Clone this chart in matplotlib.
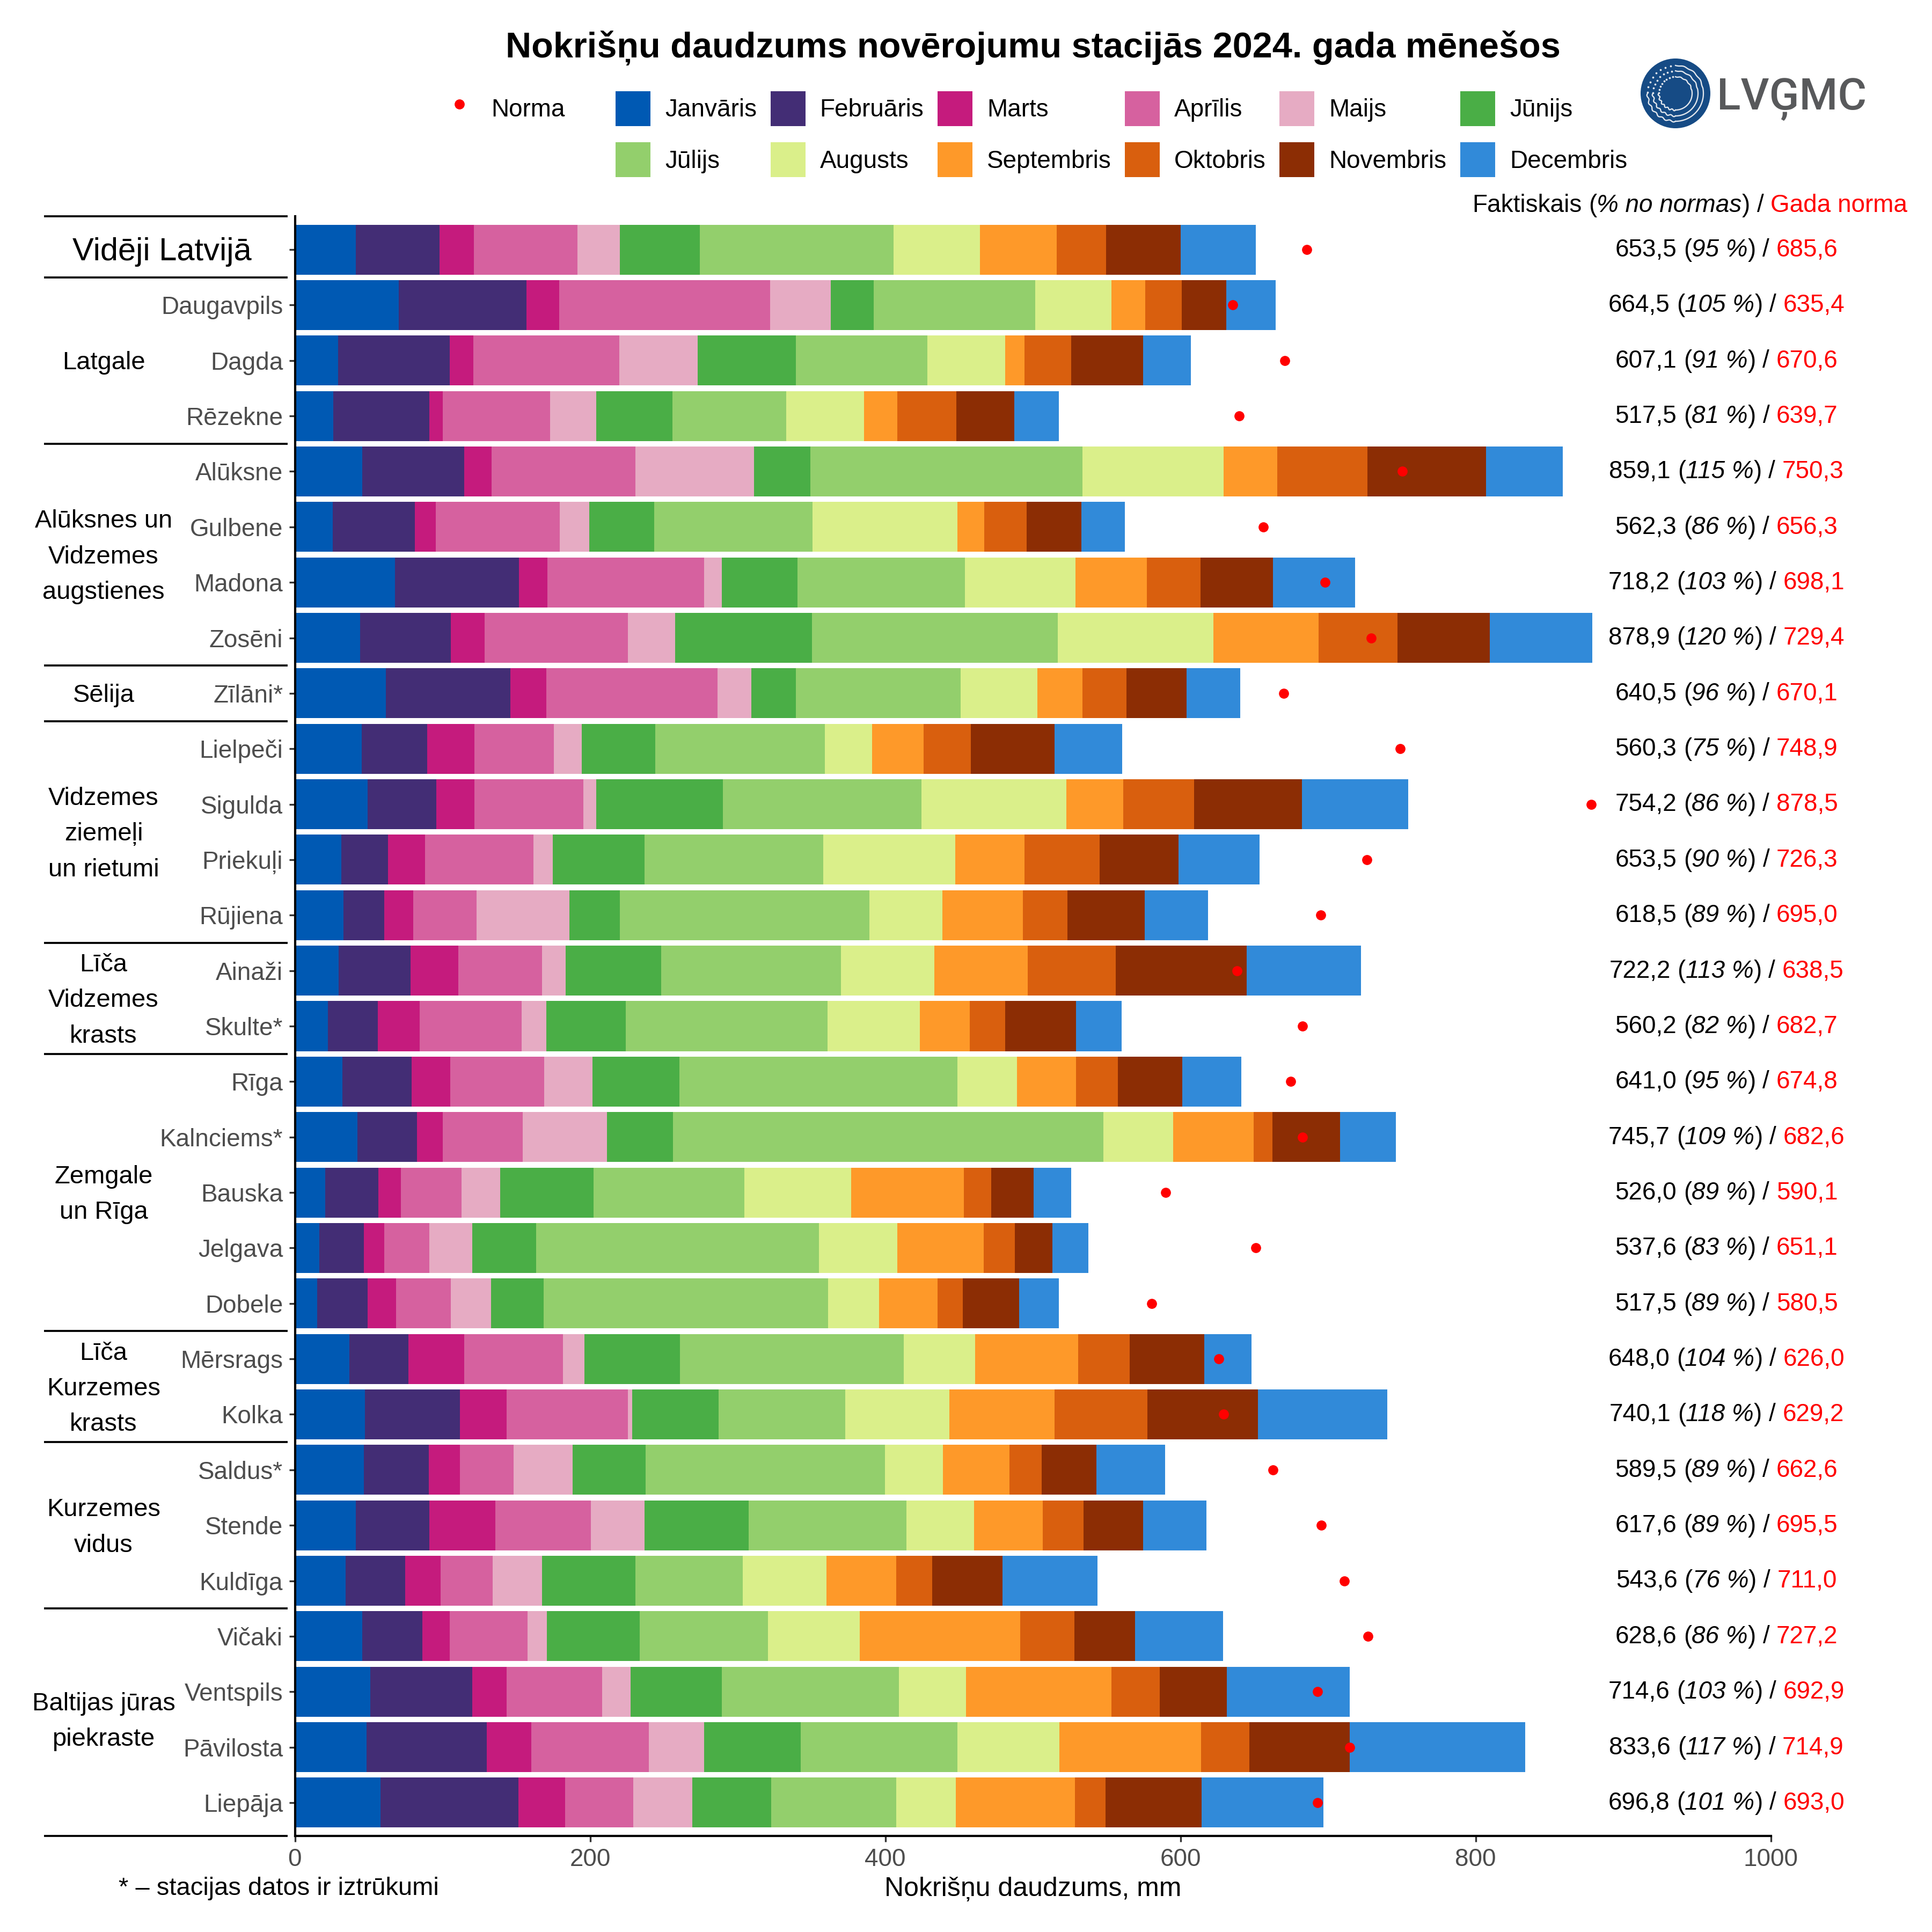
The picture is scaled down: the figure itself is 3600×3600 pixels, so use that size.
import matplotlib
matplotlib.use("Agg")
import matplotlib.pyplot as plt
import numpy as np
from matplotlib.lines import Line2D
from matplotlib.patches import Circle

plt.rcParams['font.family'] = ['Liberation Sans', 'DejaVu Sans']

stations = ["", "Daugavpils", "Dagda", "Rēzekne", "Alūksne", "Gulbene", "Madona", "Zosēni", "Zīlāni*",
            "Lielpeči", "Sigulda", "Priekuļi", "Rūjiena", "Ainaži", "Skulte*", "Rīga", "Kalnciems*",
            "Bauska", "Jelgava", "Dobele", "Mērsrags", "Kolka", "Saldus*", "Stende", "Kuldīga",
            "Vičaki", "Ventspils", "Pāvilosta", "Liepāja"]

months = ["Janvāris", "Februāris", "Marts", "Aprīlis", "Maijs", "Jūnijs",
          "Jūlijs", "Augusts", "Septembris", "Oktobris", "Novembris", "Decembris"]
month_colors = ["#0059B3", "#432D75", "#C51B7D", "#D6619F", "#E6ABC3", "#4AAE46",
                "#93CF6C", "#DAEF8A", "#FE9929", "#D95F0E", "#8C2D04", "#318AD9"]

jan = [41.3, 70.5, 29.2, 25.9, 45.5, 25.6, 67.8, 44.3, 61.5, 45.2, 49.4, 31.4, 32.9, 29.8, 22.3, 32.3, 42.2, 20.5, 16.6, 15.1, 36.8, 47.6, 46.7, 41.3, 34.4, 45.8, 51.0, 48.5, 57.9]
feb = [56.7, 86.3, 75.7, 65.1, 69.1, 55.8, 84.1, 61.5, 84.4, 44.6, 46.5, 31.6, 27.7, 48.6, 33.8, 46.7, 40.4, 36.2, 30.1, 34.3, 40.1, 64.2, 44.0, 49.7, 40.4, 40.7, 69.0, 81.4, 93.7]
mar = [23.2, 22.3, 16.0, 9.1, 18.7, 13.9, 19.3, 22.9, 24.4, 32.0, 25.9, 25.0, 19.6, 32.2, 28.3, 26.2, 17.5, 15.1, 13.9, 19.0, 38.0, 31.7, 21.1, 44.7, 24.1, 18.4, 23.5, 30.2, 31.4]
apr = [70.2, 142.9, 98.9, 72.7, 97.6, 84.1, 105.9, 96.8, 116.1, 53.7, 73.6, 73.6, 42.8, 56.7, 69.1, 63.6, 54.3, 41.0, 30.4, 37.1, 66.6, 82.0, 36.2, 64.8, 35.0, 52.8, 64.8, 79.6, 46.4]
may = [28.7, 41.0, 53.0, 31.3, 80.2, 20.2, 12.3, 32.0, 22.9, 18.7, 8.7, 13.3, 63.0, 16.3, 16.8, 32.9, 57.2, 26.2, 29.0, 27.5, 14.5, 3.0, 40.1, 36.5, 33.4, 13.2, 19.3, 37.4, 39.8]
jun = [54.2, 29.2, 66.7, 51.6, 38.0, 44.0, 51.3, 92.8, 30.2, 50.0, 85.9, 62.1, 34.1, 64.5, 53.7, 58.8, 44.4, 63.3, 43.4, 35.5, 64.8, 58.5, 49.7, 70.5, 63.6, 62.7, 61.8, 65.7, 53.7]
jul = [131.2, 109.4, 89.1, 77.2, 184.5, 107.0, 113.3, 166.7, 111.7, 114.9, 134.6, 120.9, 169.1, 121.8, 136.9, 188.4, 291.7, 102.2, 191.7, 192.7, 151.9, 85.9, 161.9, 106.7, 72.4, 86.9, 119.7, 106.0, 84.4]
aug = [58.7, 51.6, 52.8, 52.7, 95.8, 98.2, 75.0, 105.5, 51.9, 31.9, 98.1, 89.5, 49.5, 63.3, 62.5, 40.3, 47.4, 72.3, 53.1, 34.6, 48.2, 70.5, 39.5, 46.1, 56.7, 62.1, 45.8, 69.1, 40.4]
sep = [51.9, 22.9, 13.0, 22.6, 36.2, 18.4, 48.3, 71.1, 30.5, 34.9, 38.6, 47.0, 54.5, 63.3, 33.9, 40.1, 54.5, 76.6, 58.4, 39.7, 70.0, 71.5, 44.9, 46.4, 47.3, 108.8, 98.3, 96.1, 80.7]
oct_ = [33.4, 24.7, 31.6, 39.8, 61.2, 28.7, 36.5, 53.4, 29.8, 32.0, 47.9, 50.9, 30.4, 59.7, 24.1, 28.4, 12.7, 18.4, 21.1, 17.0, 34.6, 62.7, 22.0, 27.8, 24.5, 36.7, 32.8, 32.6, 20.8]
nov = [50.7, 30.4, 48.9, 39.4, 80.2, 37.1, 49.1, 62.7, 40.7, 57.0, 73.3, 53.4, 52.2, 88.6, 47.9, 43.7, 45.8, 28.9, 25.7, 38.3, 50.7, 75.1, 37.1, 40.4, 47.8, 41.3, 45.5, 68.2, 65.2]
dec = [50.9, 33.5, 32.2, 30.2, 52.2, 29.5, 55.5, 69.4, 36.5, 45.8, 71.7, 54.9, 43.1, 77.5, 30.8, 39.8, 38.0, 25.3, 24.4, 26.8, 31.9, 87.4, 46.4, 42.8, 64.2, 59.4, 83.3, 118.7, 82.6]

totals = [653.5, 664.5, 607.1, 517.5, 859.1, 562.3, 718.2, 878.9, 640.5, 560.3, 754.2, 653.5, 618.5, 722.2, 560.2,
          641.0, 745.7, 526.0, 537.6, 517.5, 648.0, 740.1, 589.5, 617.6, 543.6, 628.6, 714.6, 833.6, 696.8]
percent = [95, 105, 91, 81, 115, 86, 103, 120, 96, 75, 86, 90, 89, 113, 82,
           95, 109, 89, 83, 89, 104, 118, 89, 89, 76, 86, 103, 117, 101]
norma = [685.6, 635.4, 670.6, 639.7, 750.3, 656.3, 698.1, 729.4, 670.1, 748.9, 878.5, 726.3, 695.0, 638.5, 682.7,
         674.8, 682.6, 590.1, 651.1, 580.5, 626.0, 629.2, 662.6, 695.5, 711.0, 727.2, 692.9, 714.9, 693.0]

# region name, first row, last row
regions = [("Latgale", 1, 3), ("Alūksnes un\nVidzemes\naugstienes", 4, 7), ("Sēlija", 8, 8),
           ("Vidzemes\nziemeļi\nun rietumi", 9, 12), ("Līča\nVidzemes\nkrasts", 13, 14),
           ("Zemgale\nun Rīga", 15, 19), ("Līča\nKurzemes\nkrasts", 20, 21),
           ("Kurzemes\nvidus", 22, 24), ("Baltijas jūras\npiekraste", 25, 28)]

W = 3600.0
x0 = 549.5
x1 = 3299.5


def px_x(p):
    # figure pixel to axes fraction
    return (p - x0) / (x1 - x0)


fig = plt.figure(figsize=(12, 12), dpi=300)
ax = fig.add_axes([x0 / W, 1 - 3421 / W, (x1 - x0) / W, (3421 - 403) / W])

y = np.arange(len(stations))
left = np.zeros(len(stations))
bars = []
for vals, name, col in zip([jan, feb, mar, apr, may, jun, jul, aug, sep, oct_, nov, dec], months, month_colors):
    b = ax.barh(y, vals, height=0.9, left=left, color=col, label=name, linewidth=0)
    bars.append(b)
    left = left + np.array(vals)

norm_line = ax.plot(norma, y, 'o', color='red', markersize=4.5, markeredgewidth=0, zorder=5, label="Norma")[0]

ax.set_xlim(0, 1000)
ax.set_ylim(len(stations) - 0.4, -0.6)
ax.set_xticks([0, 200, 400, 600, 800, 1000])
ax.set_yticks(y)
ax.set_yticklabels(stations)
ax.tick_params(axis='both', length=2.75, width=0.8, color='#333333', labelcolor='#4D4D4D', labelsize=11, pad=2.6)
ax.spines['top'].set_visible(False)
ax.spines['right'].set_visible(False)
ax.spines['left'].set_linewidth(1)
ax.spines['bottom'].set_linewidth(1)
ax.set_xlabel("Nokrišņu daudzums, mm", fontsize=12, color='black', labelpad=2.4)

yax = ax.get_yaxis_transform()

# horizontal rules between the regions
rules = [-0.6, len(stations) - 0.4] + [r[1] - 0.5 for r in regions]
for r in rules:
    ax.plot([px_x(82), px_x(536)], [r, r], transform=yax, color='black', lw=0.9, clip_on=False, solid_capstyle='butt')

ax.text(px_x(302), 0.04, "Vidēji Latvijā", transform=yax, fontsize=14.3, ha='center', va='center', clip_on=False)
for name, a, b in regions:
    ax.text(px_x(193), (a + b) / 2 + 0.04, name, transform=yax, fontsize=11.3, ha='center', va='center',
            linespacing=1.66, clip_on=False)

# mixed style labels on the right, drawn piece by piece
renderer = fig.canvas.get_renderer()
fs = 11
space = 0.278 * fs * 300 / 72


def fmt(v):
    return f"{v:.1f}".replace(".", ",")


def piece_row(pieces, px_center, row, size, right=None):
    texts = []
    total = 0
    for s, style, col, gap in pieces:
        t = ax.text(0, row + 0.125, s, transform=yax, fontsize=size, style=style, color=col, clip_on=False,
                    ha='left', va='baseline')
        w = t.get_window_extent(renderer).width
        texts.append((t, w, gap))
        total += w + gap
    px = px_center - total / 2 if right is None else right - total
    for t, w, gap in texts:
        px += gap
        t.set_x(px_x(px))
        px += w


for i in range(len(stations)):
    piece_row([(fmt(totals[i]), 'normal', 'black', 0),
               ("(", 'normal', 'black', space),
               (f"{percent[i]} %", 'italic', 'black', 0),
               (")", 'normal', 'black', 0),
               ("/", 'normal', 'black', space),
               (fmt(norma[i]), 'normal', 'red', space)], 3217, i, fs)

piece_row([("Faktiskais", 'normal', 'black', 0),
           ("(", 'normal', 'black', space),
           ("% no normas", 'italic', 'black', 0),
           (")", 'normal', 'black', 0),
           ("/", 'normal', 'black', space),
           ("Gada norma", 'normal', 'red', space)], 0, -0.8, 11, right=3554)

fig.text(1924.5 / W, 1 - 90 / W, "Nokrišņu daudzums novērojumu stacijās 2024. gada mēnešos",
         fontsize=16, fontweight='bold', ha='center', va='center')
fig.text(221 / W, 1 - 3519 / W, "* – stacijas datos ir iztrūkumi", fontsize=11.3, ha='left', va='center')

# legends: month order runs along the rows
handles = []
for k in range(6):
    handles.append(bars[k])
    handles.append(bars[k + 6])
key = 65 / 300 * 72 / 11
key_h = 1.805
fig.legend(handles=handles, labels=[h.get_label() for h in handles], ncol=6, loc='upper left',
           bbox_to_anchor=(1147 / W, 1 - 170 / W), frameon=False, fontsize=11, borderpad=0, borderaxespad=0,
           handlelength=key, handleheight=key_h, handletextpad=0.59, columnspacing=0.556, labelspacing=0.66)
fig.legend(handles=[Line2D([], [], marker='o', color='red', ls='', markersize=4.5, markeredgewidth=0)],
           labels=["Norma"], loc='upper left', bbox_to_anchor=(823 / W, 1 - 170 / W), frameon=False, fontsize=11,
           borderpad=0, borderaxespad=0, handlelength=key, handleheight=key_h, handletextpad=0.59)

# LVĢMC logo
logo = fig.add_axes([3050 / W, 1 - 246 / W, 144 / W, 144 / W])
logo.set_xlim(-72, 72)
logo.set_ylim(-72, 72)
logo.axis('off')
logo.add_patch(Circle((0, 0), 65, color='#164B85', lw=0))
for r in [52, 42, 31]:
    th = np.radians(np.linspace(90, -90, 120))
    rr = r + 0.7 * np.sin(th * 16) * (th > 0.2)
    logo.plot(rr * np.cos(th), rr * np.sin(th), color='#E4E8EE', lw=0.55)
    th = np.radians(np.linspace(270, 180, 70))
    rr = r + 1.4 * np.sin(th * 22)
    logo.plot(rr * np.cos(th), rr * np.sin(th), color='#E4E8EE', lw=0.55)
    th = np.radians(np.linspace(100, 178, 8))
    logo.plot(r * np.cos(th), r * np.sin(th), ls='', marker='o', markersize=0.9, color='#E4E8EE', markeredgewidth=0)
fig.text(3199 / W, 1 - 204 / W, "LVĢMC", fontsize=19.7, family=['Roboto', 'DejaVu Sans'], fontweight='medium', color='#58595B',
         ha='left', va='baseline')

fig.savefig("out.png", dpi=300)
